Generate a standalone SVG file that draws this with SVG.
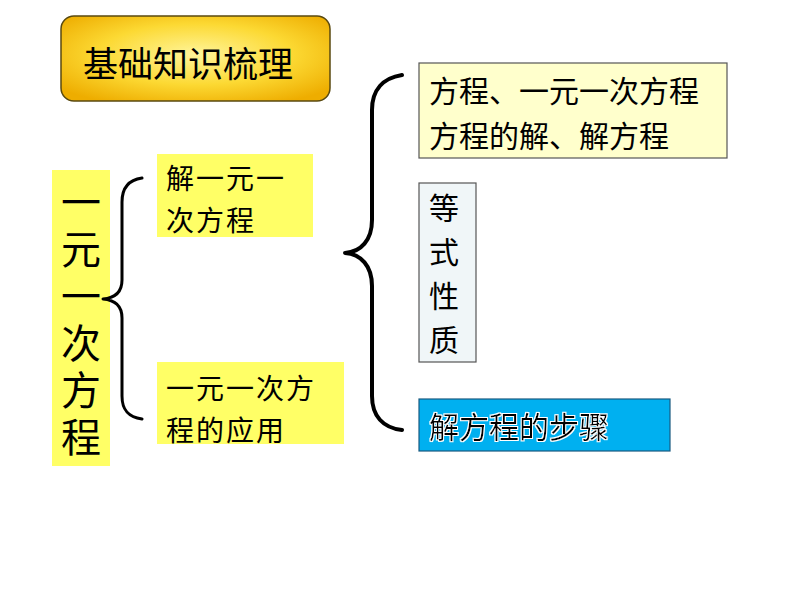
<svg xmlns="http://www.w3.org/2000/svg" width="794" height="596" viewBox="0 0 794 596">
<defs>
<radialGradient id="gold" cx="50%" cy="45%" r="65%">
<stop offset="0" stop-color="#FFF59A"/>
<stop offset="0.55" stop-color="#FCD933"/>
<stop offset="1" stop-color="#EEAD00"/>
</radialGradient>
<filter id="glow" x="-10%" y="-30%" width="120%" height="160%">
<feMorphology in="SourceAlpha" operator="dilate" radius="1.2" result="d"/>
<feFlood flood-color="#FFFFFF"/>
<feComposite in2="d" operator="in" result="w"/>
<feMerge><feMergeNode in="w"/><feMergeNode in="SourceGraphic"/></feMerge>
</filter>
</defs>
<style>
text{font-family:"Noto Sans CJK SC","Noto Sans",sans-serif;fill:#000;dominant-baseline:central}
.vert{writing-mode:vertical-rl;text-orientation:upright}
.two{font-size:28px;letter-spacing:2px}
.yel{fill:#FFFF66;stroke:none}
.box{stroke:#555;stroke-width:1.2}
.brace{fill:none;stroke:#000;stroke-linecap:round;stroke-linejoin:round}
</style>
<rect width="794" height="596" fill="#FFFFFF"/>
<g id="title">
<rect x="61" y="16" width="269" height="85" rx="13" fill="url(#gold)" stroke="#5A4A10" stroke-width="1.5"/>
<text x="83" y="61" font-size="35">基础知识梳理</text>
</g>
<g id="root">
<rect class="yel" x="52" y="170" width="58" height="296"/>
<text class="vert" x="81" y="182" font-size="40" style="letter-spacing:7px">一元一次方程</text>
</g>
<g id="solve">
<rect class="yel" x="157" y="154" width="156" height="83"/>
<text class="two" x="166" y="177">解一元一</text>
<text class="two" x="166" y="219">次方程</text>
</g>
<g id="apply">
<rect class="yel" x="157" y="362" width="187" height="82"/>
<text class="two" x="166" y="387">一元一次方</text>
<text class="two" x="166" y="429">程的应用</text>
</g>
<g id="concepts">
<rect class="box" x="419" y="63" width="308" height="95" fill="#FFFFCC"/>
<text x="429" y="89" font-size="30">方程、一元一次方程</text>
<text x="429" y="134" font-size="30">方程的解、解方程</text>
</g>
<g id="properties">
<rect class="box" x="419" y="183" width="57" height="179" fill="#F0F6F8"/>
<text class="vert" x="444" y="193" font-size="30" style="letter-spacing:14px">等式性质</text>
</g>
<g id="steps">
<rect x="419" y="399" width="251" height="52" fill="#00B0F0" stroke="#1A5A80" stroke-width="1.2"/>
<text x="429" y="425" font-size="30" filter="url(#glow)">解方程的步骤</text>
</g>
<g id="connectors">
<path class="brace" stroke-width="3" d="M142,178 C128,180 122,188 122,202 L122,280 C122,292 115,298 103,299 C115,300 122,306 122,318 L122,396 C122,410 128,417 142,419"/>
<path class="brace" stroke-width="4" d="M402,75 C383,78 372,90 372,110 L372,220 C372,240 361,252 345,253 C361,254 372,266 372,286 L372,396 C372,416 383,428 402,430"/>
</g>
</svg>
